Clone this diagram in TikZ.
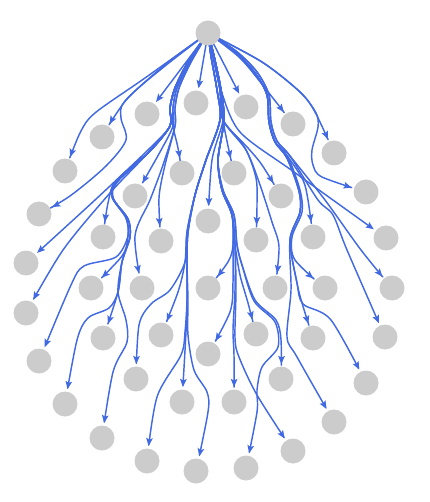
\documentclass[tikz,border=0pt]{standalone}
\usetikzlibrary{arrows.meta}
\definecolor{edgeblue}{RGB}{65,105,225}
\definecolor{nodegray}{RGB}{204,204,204}
\pgfdeclarelayer{bg}
\pgfsetlayers{bg,main}
\begin{document}
\begin{tikzpicture}[x=1pt,y=-1pt,
  vtx/.style={circle,fill=nodegray,minimum size=25pt,inner sep=0pt},
  edge/.style={draw=edgeblue,line width=1.45pt,line join=round,
    -{Stealth[length=8pt,width=6.5pt,inset=1.5pt]},shorten >=15pt}]
\useasboundingbox (0,0) rectangle (429,502);
\node[vtx] (R) at (208,33) {};
\node[vtx] (n1) at (147,114) {};
\node[vtx] (n2) at (196,103) {};
\node[vtx] (n3) at (246,107) {};
\node[vtx] (n4) at (102,137) {};
\node[vtx] (n5) at (293,124) {};
\node[vtx] (n6) at (65,171) {};
\node[vtx] (n7) at (334,153) {};
\node[vtx] (n8) at (182,173) {};
\node[vtx] (n9) at (234,173) {};
\node[vtx] (n10) at (135,196) {};
\node[vtx] (n11) at (281,196) {};
\node[vtx] (n12) at (39,214) {};
\node[vtx] (n13) at (366,192) {};
\node[vtx] (n14) at (208,221) {};
\node[vtx] (n15) at (103,237) {};
\node[vtx] (n16) at (161,241) {};
\node[vtx] (n17) at (256,240) {};
\node[vtx] (n18) at (313,237) {};
\node[vtx] (n19) at (386,238) {};
\node[vtx] (n20) at (26,263) {};
\node[vtx] (n21) at (91,288) {};
\node[vtx] (n22) at (142,288) {};
\node[vtx] (n23) at (208,288) {};
\node[vtx] (n24) at (275,288) {};
\node[vtx] (n25) at (325,288) {};
\node[vtx] (n26) at (392,288) {};
\node[vtx] (n27) at (26,313) {};
\node[vtx] (n28) at (103,338) {};
\node[vtx] (n29) at (161,335) {};
\node[vtx] (n30) at (208,354) {};
\node[vtx] (n31) at (256,334) {};
\node[vtx] (n32) at (313,338) {};
\node[vtx] (n33) at (385,337) {};
\node[vtx] (n34) at (39,361) {};
\node[vtx] (n35) at (136,379) {};
\node[vtx] (n36) at (182,402) {};
\node[vtx] (n37) at (234,402) {};
\node[vtx] (n38) at (281,379) {};
\node[vtx] (n39) at (366,383) {};
\node[vtx] (n40) at (65,404) {};
\node[vtx] (n41) at (334,422) {};
\node[vtx] (n42) at (102,438) {};
\node[vtx] (n43) at (147,461) {};
\node[vtx] (n44) at (196,471) {};
\node[vtx] (n45) at (246,468) {};
\node[vtx] (n46) at (293,451) {};
\begin{pgfonlayer}{bg}
% direct
\draw[edge] plot[smooth] coordinates {(R.center) (n1.center)};
\draw[edge] plot[smooth] coordinates {(R.center) (n2.center)};
\draw[edge] plot[smooth] coordinates {(R.center) (n3.center)};
% far left
\draw[edge] plot[smooth] coordinates {(R.center) (165,66) (127,99) (n4.center)};
\draw[edge] plot[smooth] coordinates {(R.center) (145,78) (95,113) (80,133) (n6.center)};
\draw[edge] plot[smooth] coordinates {(R.center) (166,64) (125,101) (121,118) (126,140) (106,166) (70,196) (n12.center)};
% left trunk
\draw[edge] plot[smooth] coordinates {(R.center) (190,62) (177,88) (173,108) (173,126) (178,148) (n8.center)};
\draw[edge] plot[smooth] coordinates {(R.center) (190,62) (177,88) (173,108) (173,126) (160,152) (n10.center)};
\draw[edge] plot[smooth] coordinates {(R.center) (188,62) (175,88) (170,108) (170,126) (149,149) (95,200) (n20.center)};
\draw[edge] plot[smooth] coordinates {(R.center) (188,62) (175,88) (170,108) (170,126) (145,156) (110,193) (63,250) (n27.center)};
\draw[edge] plot[smooth] coordinates {(R.center) (188,62) (175,88) (170,108) (170,126) (150,151) (116,181) (108,203) (n15.center)};
\draw[edge] plot[smooth] coordinates {(R.center) (188,62) (175,88) (170,108) (170,126) (150,151) (116,181) (112,197) (126,218) (128,236) (122,256) (n21.center)};
\draw[edge] plot[smooth] coordinates {(R.center) (188,62) (175,88) (170,108) (170,126) (150,151) (116,181) (112,197) (126,218) (128,236) (116,257) (84,266) (71,285) (n34.center)};
\draw[edge] plot[smooth] coordinates {(R.center) (188,62) (175,88) (170,108) (170,126) (150,151) (117,182) (113,198) (128,219) (130,237) (122,262) (118,292) (n28.center)};
\draw[edge] plot[smooth] coordinates {(R.center) (188,62) (175,88) (170,108) (170,126) (150,151) (117,182) (113,198) (128,219) (130,237) (122,262) (118,292) (109,308) (88,318) (77,340) (n40.center)};
\draw[edge] plot[smooth] coordinates {(R.center) (188,62) (175,88) (170,108) (170,126) (150,151) (117,182) (113,198) (128,219) (130,237) (122,262) (118,292) (126,320) (127,342) (113,372) (n42.center)};
\draw[edge] plot[smooth] coordinates {(R.center) (191,62) (179,88) (175,108) (175,126) (165,165) (159,198) (n16.center)};
\draw[edge] plot[smooth] coordinates {(R.center) (191,62) (179,88) (175,108) (175,126) (163,165) (150,200) (135,236) (n22.center)};
% centre trunk
\draw[edge] plot[smooth] coordinates {(R.center) (213,56) (220,90) (223,120) (228,146) (n9.center)};
\draw[edge] plot[smooth] coordinates {(R.center) (213,56) (220,90) (223,120) (212,160) (n14.center)};
\draw[edge] plot[smooth] coordinates {(R.center) (213,56) (220,90) (223,120) (248,148) (262,165) (n11.center)};
\draw[edge] plot[smooth] coordinates {(R.center) (214,56) (221,90) (240,132) (294,172) (n19.center)};
\draw[edge] plot[smooth] coordinates {(R.center) (213,56) (220,90) (223,120) (245,148) (256,178) (257,205) (n17.center)};
\draw[edge] plot[smooth] coordinates {(R.center) (213,56) (220,90) (223,120) (246,150) (259,182) (272,222) (279,247) (n24.center)};
% centre-left branch
\draw[edge] plot[smooth] coordinates {(R.center) (211,56) (217,90) (220,120) (206,160) (195,195) (187,232) (185,262) (178,292) (n29.center)};
\draw[edge] plot[smooth] coordinates {(R.center) (211,56) (217,90) (220,120) (206,160) (195,195) (187,232) (185,262) (170,290) (151,304) (139,325) (n35.center)};
\draw[edge] plot[smooth] coordinates {(R.center) (211,56) (217,90) (220,120) (206,160) (195,195) (188,232) (187,262) (187,300) (186,332) (n36.center)};
\draw[edge] plot[smooth] coordinates {(R.center) (211,56) (217,90) (220,120) (206,160) (195,195) (188,232) (187,262) (187,300) (185,332) (181,355) (157,397) (n43.center)};
\draw[edge] plot[smooth] coordinates {(R.center) (211,56) (217,90) (220,120) (206,160) (195,195) (188,232) (187,262) (188,300) (188,335) (194,370) (207,392) (208,412) (n44.center)};
% centre branch
\draw[edge] plot[smooth] coordinates {(R.center) (214,56) (221,90) (224,120) (218,160) (222,190) (232,215) (233,245) (228,262) (n23.center)};
\draw[edge] plot[smooth] coordinates {(R.center) (214,56) (221,90) (224,120) (218,160) (222,190) (232,215) (233,245) (233,282) (230,312) (n30.center)};
\draw[edge] plot[smooth] coordinates {(R.center) (214,56) (221,90) (224,120) (218,160) (222,190) (232,215) (235,245) (240,275) (248,303) (n31.center)};
\draw[edge] plot[smooth] coordinates {(R.center) (214,56) (221,90) (224,120) (218,160) (222,190) (232,215) (235,245) (235,290) (233,330) (234,355) (n37.center)};
\draw[edge] plot[smooth] coordinates {(R.center) (214,56) (221,90) (224,120) (218,160) (222,190) (232,215) (235,245) (236,290) (235,338) (239,357) (257,395) (n46.center)};
\draw[edge] plot[smooth] coordinates {(R.center) (214,56) (221,90) (224,120) (218,160) (223,190) (234,215) (237,245) (242,265) (255,300) (276,320) (281,340) (n38.center)};
\draw[edge] plot[smooth] coordinates {(R.center) (214,56) (221,90) (224,120) (218,160) (223,190) (234,215) (237,245) (242,265) (254,301) (275,322) (278,347) (262,367) (257,390) (257,412) (n45.center)};
% right trunk
\draw[edge] plot[smooth] coordinates {(R.center) (240,58) (265,88) (n5.center)};
\draw[edge] plot[smooth] coordinates {(R.center) (235,52) (255,73) (267,95) (269,122) (275,142) (288,157) (303,180) (308,200) (n18.center)};
\draw[edge] plot[smooth] coordinates {(R.center) (235,52) (255,73) (267,95) (269,122) (275,142) (288,157) (300,190) (302,212) (292,237) (295,260) (n25.center)};
\draw[edge] plot[smooth] coordinates {(R.center) (235,52) (255,73) (267,95) (269,122) (275,142) (287,158) (299,191) (300,212) (290,240) (297,283) (302,303) (n32.center)};
\draw[edge] plot[smooth] coordinates {(R.center) (235,52) (255,73) (267,95) (269,122) (275,142) (287,158) (299,191) (300,212) (290,240) (297,283) (303,304) (331,320) (n39.center)};
\draw[edge] plot[smooth] coordinates {(R.center) (235,52) (255,73) (267,95) (269,122) (275,142) (287,158) (299,191) (300,212) (290,240) (291,290) (287,337) (297,357) (n41.center)};
\draw[edge] plot[smooth] coordinates {(R.center) (236,51) (257,72) (269,95) (271,122) (277,141) (290,156) (325,200) (361,250) (n26.center)};
\draw[edge] plot[smooth] coordinates {(R.center) (236,51) (257,72) (269,95) (271,122) (277,141) (290,156) (318,200) (333,215) (347,250) (n33.center)};
% far right
\draw[edge] plot[smooth] coordinates {(R.center) (262,62) (300,92) (315,112) (n7.center)};
\draw[edge] plot[smooth] coordinates {(R.center) (262,62) (300,92) (316,113) (318,127) (312,150) (313,165) (322,177) (n13.center)};
\end{pgfonlayer}
\end{tikzpicture}
\end{document}
